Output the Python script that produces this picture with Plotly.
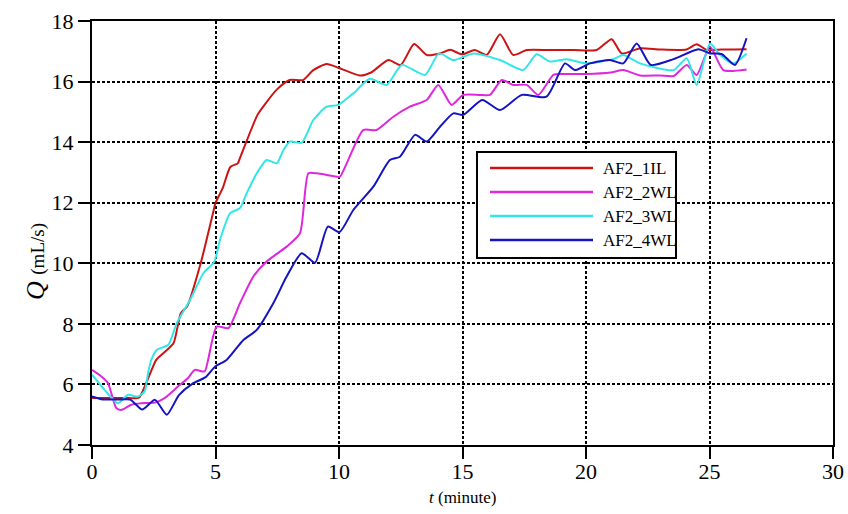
import plotly.graph_objects as go

# ---- data ----
t_1IL = [0, 0.5, 1.0, 1.5, 1.9, 2.2, 2.6, 2.9, 3.3, 3.6, 3.85, 4.4, 4.9, 5.0, 5.3, 5.6, 5.9, 6.0, 6.7, 7.0, 7.5, 8.0, 8.55,
         8.96, 9.5, 10.0, 10.85, 11.3, 12.0, 12.5, 13.04, 13.55, 14.09, 14.5, 14.97, 15.5, 15.98, 16.52, 17.05, 17.6,
         18.5, 19.5, 20.43, 21.04, 21.44, 22.2, 23.0, 24.07, 24.48, 24.9, 25.5, 26.5]
q_1IL = [5.55, 5.55, 5.55, 5.55, 5.56, 6.05, 6.81, 7.04, 7.36, 8.36, 8.57, 10.0, 11.66, 11.99, 12.5, 13.18, 13.3, 13.5, 14.9,
         15.25, 15.75, 16.05, 16.05, 16.38, 16.58, 16.45, 16.2, 16.3, 16.71, 16.55, 17.24, 16.88, 16.93, 17.05, 16.9,
         17.04, 16.88, 17.56, 16.88, 17.04, 17.04, 17.04, 17.04, 17.4, 16.93, 17.1, 17.06, 17.06, 17.23, 17.04, 17.06, 17.07]

t_2WL = [0, 0.38, 0.65, 0.98, 1.19, 1.59, 2.0, 2.54, 2.94, 3.48, 3.89, 4.16, 4.56, 4.7, 5.05, 5.52, 5.99, 6.53, 7.07,
         7.88, 8.42, 8.76, 9.1, 9.9, 10.04, 10.98, 11.52, 12.2, 12.87, 13.55, 14.02, 14.56, 15.03, 15.71, 16.11, 16.59,
         17.06, 17.6, 18.07, 18.68, 19.08, 20.0, 21.0, 21.51, 22.19, 23.0, 23.54, 24.08, 24.48, 25.02, 25.56, 26.5]
q_2WL = [6.48, 6.26, 6.04, 5.22, 5.16, 5.33, 5.38, 5.4, 5.55, 5.93, 6.21, 6.48, 6.43, 6.81, 7.91, 7.86, 8.68, 9.56, 10.06,
         10.55, 10.99, 12.97, 12.97, 12.86, 12.86, 14.4, 14.4, 14.84, 15.17, 15.39, 15.89, 15.23, 15.56, 15.56, 15.56,
         16.05, 15.89, 15.89, 15.56, 16.22, 16.25, 16.25, 16.3, 16.38, 16.2, 16.2, 16.18, 16.55, 16.22, 17.15, 16.38, 16.4]

t_3WL = [0, 0.51, 1.05, 1.46, 1.86, 2.13, 2.27, 2.4, 2.62, 3.09, 3.43, 3.97, 4.51, 4.95, 5.18, 5.59, 5.99, 6.26, 6.67,
         7.07, 7.48, 7.75, 8.02, 8.49, 8.96, 9.5, 9.97, 10.58, 11.25, 11.93, 12.54, 13.48, 14.05, 14.63, 15.44, 16.52,
         17.46, 18.0, 18.54, 19.22, 20.02, 21.1, 21.51, 22.19, 23.54, 24.08, 24.48, 25.02, 25.43, 25.96, 26.5]
q_3WL = [6.32, 5.82, 5.38, 5.66, 5.6, 5.77, 6.38, 6.81, 7.14, 7.31, 8.02, 8.79, 9.67, 10.05, 10.77, 11.65, 11.82, 12.31,
         12.97, 13.41, 13.3, 13.74, 14.02, 13.98, 14.73, 15.17, 15.23, 15.61, 16.09, 15.89, 16.55, 16.22, 16.93, 16.71,
         16.93, 16.71, 16.38, 16.9, 16.66, 16.74, 16.6, 16.74, 16.88, 16.6, 16.38, 16.77, 15.89, 17.26, 16.88, 16.6, 16.93]

t_4WL = [0, 0.38, 1.0, 1.55, 2.03, 2.55, 3.03, 3.52, 4.06, 4.6, 5.0, 5.45, 6.13, 6.67, 7.34, 7.88, 8.49, 9.03, 9.55,
         10.02, 10.58, 11.39, 12.06, 12.47, 13.08, 13.55, 14.09, 14.63, 15.03, 15.8, 16.52, 17.4, 18.4, 19.15, 19.55,
         20.16, 20.97, 21.51, 22.05, 22.62, 23.54, 24.55, 25.02, 25.49, 26.03, 26.5]
q_4WL = [5.6, 5.51, 5.5, 5.5, 5.17, 5.49, 5.0, 5.65, 6.02, 6.24, 6.6, 6.81, 7.47, 7.8, 8.68, 9.56, 10.33, 10.02, 11.21,
         11.03, 11.76, 12.53, 13.41, 13.52, 14.24, 14.02, 14.51, 14.95, 14.9, 15.39, 15.06, 15.56, 15.5, 16.6, 16.38,
         16.6, 16.71, 16.6, 17.26, 16.55, 16.74, 17.07, 16.93, 16.91, 16.55, 17.43]

names = ["AF2_1IL", "AF2_2WL", "AF2_3WL", "AF2_4WL"]
colors = ["#cc1414", "#dd28dd", "#33e6e6", "#1414c0"]
series = [(t_1IL, q_1IL), (t_2WL, q_2WL), (t_3WL, q_3WL), (t_4WL, q_4WL)]

x_ticks = [0, 5, 10, 15, 20, 25, 30]
y_ticks = [4, 6, 8, 10, 12, 14, 16, 18]

FONT = "Liberation Serif"
W, H = 848, 514
ML, MR, MT, MB = 92, 15, 21, 69
PW, PH = W - ML - MR, H - MT - MB


def px_to_paper(px, py):
    return (px - ML) / PW, (H - MB - py) / PH


fig = go.Figure()
for (tx, qy), nm, col in zip(series, names, colors):
    fig.add_trace(go.Scatter(x=tx, y=qy, mode="lines", name=nm,
                             line=dict(color=col, width=2, shape="spline", smoothing=0.6)))

axis_common = dict(
    showline=True, linecolor="black", linewidth=2, mirror=True,
    ticks="outside", ticklen=12, tickwidth=2, tickcolor="black",
    showgrid=True, gridcolor="black", gridwidth=2, griddash="3px,2px",
    zeroline=False, automargin=False,
    tickfont=dict(family=FONT, size=22, color="black"),
)

fig.update_xaxes(range=[0, 30], tickvals=x_ticks, ticktext=[str(v) for v in x_ticks],
                 ticklabelstandoff=-6, **axis_common)
fig.update_yaxes(range=[4, 18], tickvals=y_ticks, ticktext=[str(v) for v in y_ticks], **axis_common)

# axis titles
fig.add_annotation(xref="paper", yref="paper", x=px_to_paper(35, 0)[0], y=px_to_paper(0, 262)[1],
                   textangle=-90, showarrow=False,
                   text="<i>Q</i> <span style='font-size:19px'>(mL/s)</span>",
                   font=dict(family=FONT, size=26, color="black"), xanchor="center", yanchor="middle")
fig.add_annotation(xref="paper", yref="paper", x=0.5, y=px_to_paper(0, 497)[1],
                   showarrow=False, text="<i>t</i> (minute)",
                   font=dict(family=FONT, size=17, color="black"), xanchor="center", yanchor="middle")

# legend box drawn like the reference (long sample lines)
bx0, by0 = px_to_paper(477, 258)
bx1, by1 = px_to_paper(676, 152)
fig.add_shape(type="rect", xref="paper", yref="paper", x0=bx0, y0=by0, x1=bx1, y1=by1,
              line=dict(color="black", width=2), fillcolor="white", layer="above")
for i, (nm, col) in enumerate(zip(names, colors)):
    ly = 168 + 24 * i
    lx0, lyp = px_to_paper(490, ly)
    lx1, _ = px_to_paper(593, ly)
    fig.add_shape(type="line", xref="paper", yref="paper", x0=lx0, x1=lx1, y0=lyp, y1=lyp,
                  line=dict(color=col, width=2.5), layer="above")
    tx0, _ = px_to_paper(601, ly)
    fig.add_annotation(xref="paper", yref="paper", x=tx0, y=lyp, text=nm, showarrow=False,
                       xanchor="left", yanchor="middle",
                       font=dict(family=FONT, size=17, color="black"))

fig.update_layout(
    width=W, height=H,
    margin=dict(l=ML, r=MR, t=MT, b=MB),
    paper_bgcolor="white", plot_bgcolor="white",
    showlegend=False,
)

fig.write_html("out.html")
